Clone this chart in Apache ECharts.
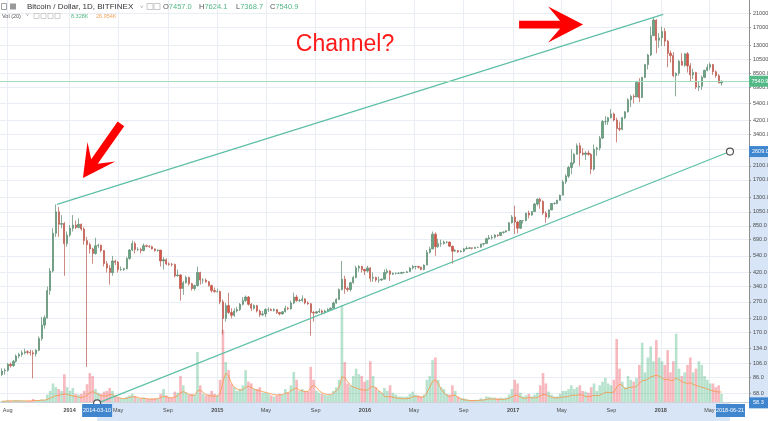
<!DOCTYPE html>
<html><head><meta charset="utf-8">
<script src="https://cdn.jsdelivr.net/npm/echarts@6/dist/echarts.min.js"></script>
<style>html,body{margin:0;padding:0;background:#fff}#c{width:768px;height:421px}</style>
</head><body><div id="c"></div>
<script>
// ---- data (weekly candles, centre of week) ----
const firstWeek = '2013-07-18';
// [open, high, low, close]
const ohlc2013 = [[90,99,88,95],[95,99,90,96],[96,107,94,105],[105,108,100,103],[103,112,101,110],[110,122,108,119],[119,125,115,122],[122,130,118,125],[125,133,122,127],[127,130,122,126],[126,131,120,125],[125,130,85,123],[123,132,118,130],[130,160,128,155],[155,215,150,190],[190,220,180,212],[212,340,210,320],[320,450,300,430],[430,820,420,760],[760,1175,720,1050],[1050,1130,720,870],[870,1000,820,880],[880,900,400,650],[650,780,620,740],[740,860,720,820]];
const ohlc2014 = [[820,1000,780,860],[860,920,810,830],[830,950,820,870],[870,880,790,810],[810,830,640,680],[680,720,101,640],[640,660,560,600],[600,610,480,560],[560,710,550,630],[630,650,610,635],[635,640,570,585],[585,590,460,480],[480,500,420,450],[450,470,350,420],[420,540,400,500],[500,510,470,490],[490,500,420,440],[440,460,430,440],[440,450,430,445],[445,530,440,520],[520,600,510,590],[590,680,580,650],[650,670,560,595],[595,615,580,595],[595,610,560,585],[585,650,580,630],[630,640,615,625],[625,635,610,620],[620,630,595,600],[600,605,575,585],[585,595,575,590],[590,590,460,500],[500,530,440,510],[510,520,470,478],[478,490,465,476],[476,485,460,475],[475,480,390,400],[400,440,395,405],[405,410,275,330],[330,370,300,360],[360,400,355,390],[390,395,345,355],[355,360,320,330],[330,350,320,345],[345,460,340,420],[420,425,350,375],[375,385,355,375],[375,385,360,365],[365,370,340,345],[345,350,310,320],[320,335,310,315],[315,330,310,315]];
const ohlc2015 = [[315,320,260,270],[270,280,165,210],[210,265,200,255],[255,310,225,230],[230,245,210,220],[220,245,215,235],[235,250,230,240],[240,265,235,260],[260,290,255,275],[275,297,270,290],[290,295,255,260],[260,265,235,245],[245,260,240,255],[255,258,230,235],[235,240,215,222],[222,235,218,225],[225,245,215,240],[240,248,232,240],[240,245,235,237],[237,245,233,240],[240,242,225,230],[230,232,220,225],[225,235,222,232],[232,255,230,245],[245,250,238,243],[243,275,240,265],[265,310,260,290],[290,300,270,275],[275,282,270,275],[275,298,270,282],[282,285,260,265],[265,272,258,262],[262,265,162,230],[230,235,200,228],[228,235,225,232],[232,245,228,235],[235,240,225,230],[230,240,226,235],[235,245,233,240],[240,248,235,245],[245,270,245,265],[265,285,262,280],[280,330,278,325],[325,500,320,380],[380,400,305,330],[330,340,315,325],[325,365,315,360],[360,400,355,390],[390,465,385,450],[450,470,425,460],[460,465,420,440],[440,445,405,430]];
const ohlc2016 = [[430,465,420,450],[450,455,365,385],[385,420,365,390],[390,395,365,375],[375,395,360,375],[375,385,370,380],[380,440,380,420],[420,445,410,430],[430,435,370,410],[410,420,405,415],[415,420,408,415],[415,422,410,415],[415,425,410,420],[420,425,415,420],[420,430,418,425],[425,455,425,450],[450,470,440,460],[460,465,440,460],[460,465,445,455],[455,458,435,440],[440,475,435,470],[470,590,470,570],[570,620,560,600],[600,780,600,750],[750,770,540,620],[620,700,610,650],[650,690,620,650],[650,680,640,665],[665,675,650,665],[665,670,620,625],[625,630,480,580],[580,600,575,585],[585,590,565,575],[575,590,570,580],[580,610,570,600],[600,625,598,605],[605,615,600,610],[610,612,595,605],[605,618,600,615],[615,620,608,615],[615,650,612,645],[645,655,630,650],[650,710,650,700],[700,740,690,710],[710,740,690,715],[715,750,700,740],[740,745,720,735],[735,775,730,770],[770,780,755,775],[775,795,770,790],[790,900,785,890],[890,1000,880,970]];
const ohlc2017 = [[970,1150,750,900],[900,915,760,820],[820,930,810,920],[920,925,880,920],[920,1035,910,1030],[1030,1070,950,1000],[1000,1060,990,1055],[1055,1200,1050,1180],[1180,1290,1150,1270],[1270,1300,1100,1230],[1230,1250,1000,1030],[1030,1060,890,970],[970,1090,950,1080],[1080,1200,1080,1190],[1190,1215,1170,1190],[1190,1260,1180,1250],[1250,1360,1245,1350],[1350,1700,1350,1650],[1650,1850,1600,1800],[1800,2100,1750,2050],[2050,2700,1850,2200],[2200,2550,2150,2500],[2500,2950,2500,2850],[2850,2980,2100,2550],[2550,2750,2450,2500],[2500,2620,2300,2550],[2550,2650,2450,2500],[2500,2550,1850,2000],[2000,2900,1950,2700],[2700,2800,2450,2750],[2750,3300,2650,3200],[3200,4200,3150,4100],[4100,4450,3900,4100],[4100,4400,3900,4350],[4350,4950,4300,4600],[4600,4700,4100,4200],[4200,4350,3000,3700],[3700,4100,3550,3650],[3650,4400,3600,4350],[4350,4800,4250,4750],[4750,5850,4700,5700],[5700,6150,5100,6000],[6000,6200,5400,5950],[5950,7600,5950,7400],[7400,7900,5500,5900],[5900,8000,5850,8000],[8000,9800,7900,9700],[9700,11400,9000,11200],[11200,17200,11000,15000],[15000,19900,15000,19000],[19000,19200,11500,14000],[14000,15600,12500,14500]];
const ohlc2018 = [[14500,17200,12800,16000],[16000,16800,12800,13800],[13800,14100,9300,11500],[11500,12000,10000,11100],[11100,11700,8000,8200],[8200,8600,6000,8500],[8500,10400,8200,10200],[10200,11500,9600,9600],[9600,11500,9400,11400],[11400,11700,8600,9500],[9500,9900,7500,8300],[8300,9100,7800,8600],[8600,8700,6700,6900],[6900,7500,6500,7000],[7000,8200,6600,8000],[8000,8950,7900,8900],[8900,9750,8750,9300],[9300,9990,8950,9700],[9700,9800,8300,8700],[8700,8900,7950,8200],[8200,8400,7300,7350],[7350,7624.1,7050,7540.9]];
// volume (thousand BTC) and its 20-period average
const vol2013 = [3,3,4,3,4,5,4,4,3,3,3,8,4,5,7,6,20,30,50,40,35,30,75,40,30];
const vol2014 = [38,22,20,22,30,48,78,70,35,25,22,28,30,38,30,15,12,10,9,14,18,22,16,10,10,12,9,8,9,10,9,22,35,18,12,12,28,25,70,45,25,20,22,20,135,45,22,18,20,30,22,18];
const vol2015 = [60,195,108,86,50,40,30,35,45,86,55,50,35,35,40,25,25,22,18,15,18,22,20,35,25,45,81,60,30,35,30,28,95,60,30,25,22,20,18,20,30,40,60,262,108,50,45,70,90,75,70,55];
const vol2016 = [60,110,70,40,30,25,38,30,45,25,20,15,15,14,15,22,28,20,18,15,20,60,70,113,120,60,40,35,22,20,45,30,15,10,10,8,6,5,6,6,10,8,15,14,12,12,10,12,10,12,20,35];
const vol2017 = [60,50,25,15,18,22,15,20,25,45,78,50,28,20,15,15,22,30,30,35,45,35,40,45,30,28,25,40,50,30,45,55,65,50,45,60,170,90,55,40,70,60,55,65,100,160,80,120,150,110,167,120];
const vol2018 = [110,100,140,80,110,184,90,70,80,100,120,80,90,110,100,70,60,50,50,40,45,22];
const ma2013 = [2,2,3,3,3,3,3,3,3,3,3,4,4,4,5,5,7,10,14,17,18,20,22,20,18];
const ma2014 = [16,15,13,12,14,18,25,28,25,20,17,16,17,20,20,16,12,10,9,10,12,14,14,12,10,10,9,8,8,8,9,12,15,14,12,11,14,16,25,28,25,20,18,18,30,32,26,20,18,16,16,16];
const ma2015 = [22,55,78,70,50,40,35,32,33,40,42,40,35,32,30,28,26,24,22,20,19,19,20,24,25,30,35,38,32,30,28,28,40,45,40,30,25,22,20,20,24,30,38,68,65,55,45,40,38,35,33,32];
const ma2016 = [32,40,42,38,30,25,15,14,15,13,11,10,9,9,9,10,14,15,14,13,14,25,40,55,60,50,35,25,18,15,18,18,12,8,6,5,4,4,4,4,5,5,7,8,8,8,7,7,7,8,10,14];
const ma2017 = [18,18,14,10,10,12,11,11,12,16,20,20,16,13,11,11,12,14,14,15,18,18,18,20,18,15,14,16,18,17,18,22,26,26,25,27,40,48,45,35,38,40,40,42,50,58,58,62,68,70,72,70];
const ma2018 = [65,60,62,58,58,65,60,55,52,50,52,48,45,42,40,38,35,32,30,28,27,27];
// trend lines [date, price]
const upperLine = [['2013-12-01', 1176], ['2018-01-07', 20680]];
const lowerLine = [['2014-03-10', 58.3], ['2018-06-21', 2609]];
const lastPrice = 7540.9;
// axis ticks
const yTicks = [68,86,106,134,170,210,270,340,420,540,690,850,1050,1300,1700,2100,2700,3400,4200,5400,6900,8500,10500,13000,17000,21000];
const xTicks = ['2013-08-01','2014-01-01','2014-05-01','2014-09-01','2015-01-01','2015-05-01','2015-09-01','2016-01-01','2016-05-01','2016-09-01','2017-01-01','2017-05-01','2017-09-01','2018-01-01','2018-05-01'];

// ---- build ----
const DAY = 86400000;
const ts = s => { const [y,m,d] = s.split('-').map(Number); return Date.UTC(y, m-1, d); };
const ohlc = [].concat(ohlc2013, ohlc2014, ohlc2015, ohlc2016, ohlc2017, ohlc2018);
const vols = [].concat(vol2013, vol2014, vol2015, vol2016, vol2017, vol2018);
const mas = [].concat(ma2013, ma2014, ma2015, ma2016, ma2017, ma2018);
const t0 = ts(firstWeek);
const times = ohlc.map((_, i) => t0 + i * 7 * DAY);
const MONTHS = ['Jan','Feb','Mar','Apr','May','Jun','Jul','Aug','Sep','Oct','Nov','Dec'];
const FONT = '"Liberation Sans", Arial, sans-serif';
const TEAL = '#5fbfa6';

const chart = echarts.init(document.getElementById('c'), null, {renderer: 'canvas'});
chart.setOption({
  animation: false,
  backgroundColor: '#ffffff',
  grid: {left: 0, right: 19, top: 0, bottom: 19, containLabel: false, outerBoundsMode: 'none'},
  xAxis: {
    type: 'value', min: ts('2013-07-13'), max: ts('2018-08-07'), scale: true,
    axisLine: {show: true, lineStyle: {color: '#cfd2d5'}},
    axisTick: {show: false, customValues: xTicks.map(ts)},
    axisLabel: {
      customValues: xTicks.map(ts), color: '#4a4a4a', fontSize: 5.5, fontFamily: FONT, margin: 5,
      formatter: v => { const d = new Date(v); return d.getUTCMonth() === 0 ? '{y|' + d.getUTCFullYear() + '}' : MONTHS[d.getUTCMonth()]; },
      rich: {y: {fontWeight: 'bold', fontSize: 5.5, color: '#4a4a4a', fontFamily: FONT}}
    },
    splitLine: {show: true, lineStyle: {color: '#e8eef4', width: 1}}
  },
  yAxis: [{
    type: 'log', logBase: 10, position: 'right', min: 59.5, max: 25700,
    axisLine: {show: true, lineStyle: {color: '#8f8f8f'}},
    axisTick: {show: true, length: 2, customValues: yTicks, lineStyle: {color: '#8f8f8f'}},
    axisLabel: {customValues: yTicks, color: '#4a4a4a', fontSize: 5.5, fontFamily: FONT, margin: 4,
      formatter: v => Number(v).toFixed(1)},
    splitLine: {show: true, lineStyle: {color: '#e8eef4', width: 1}}
  }, {
    type: 'value', min: 0, max: 1085, show: false
  }],
  series: [{
    name: 'Vol', type: 'bar', xAxisIndex: 0, yAxisIndex: 1, barWidth: 2.6, z: 1,
    data: vols.map((v, i) => ({value: [times[i], v], itemStyle: {color: ohlc[i][3] >= ohlc[i][0] ? 'rgba(83,185,135,0.42)' : 'rgba(235,77,92,0.4)'}}))
  }, {
    name: 'Vol MA', type: 'line', xAxisIndex: 0, yAxisIndex: 1, showSymbol: false, symbol: 'none', z: 2,
    lineStyle: {color: 'rgba(247,150,70,0.8)', width: 1},
    data: mas.map((v, i) => [times[i], v])
  }, {
    name: 'BTCUSD', type: 'candlestick', xAxisIndex: 0, yAxisIndex: 0, barWidth: 1.8, z: 3,
    itemStyle: {color: '#6ba583', color0: '#d75442', borderColor: '#5a8a6e', borderColor0: '#b8584c', borderWidth: 0.7},
    data: ohlc.map((d, i) => [times[i], d[0], d[3], d[2], d[1]]),
    markLine: {symbol: 'none', silent: true, label: {show: false}, lineStyle: {color: '#a4dcbc', type: 'solid', width: 1},
      data: [{yAxis: lastPrice}]}
  }, {
    name: 'upper', type: 'line', xAxisIndex: 0, yAxisIndex: 0, symbol: 'none', z: 4,
    lineStyle: {color: TEAL, width: 1.2},
    data: upperLine.map(p => [ts(p[0]), p[1]])
  }, {
    name: 'lower', type: 'line', xAxisIndex: 0, yAxisIndex: 0, clip: false, z: 4,
    symbol: 'circle', symbolSize: 7, showSymbol: true,
    itemStyle: {color: '#ffffff', borderColor: '#555', borderWidth: 1.2},
    lineStyle: {color: TEAL, width: 1.2},
    data: lowerLine.map(p => [ts(p[0]), p[1]])
  }]
});

// ---- annotations positioned through the chart's own scales ----
const px = (d, v) => chart.convertToPixel({xAxisIndex: 0, yAxisIndex: 0}, [ts(d), v]);
const xPix = d => chart.convertToPixel({xAxisIndex: 0}, ts(d));
const yPix = v => chart.convertToPixel({yAxisIndex: 0}, v);
const gBottom = 402, W = 768;

function arrow(tip, ang, len, headLen, headHalf, shaftHalf) {
  const shape = [[0,0],[-headLen,-headHalf],[-headLen+12,-shaftHalf],[-len,-shaftHalf],[-len,shaftHalf],[-headLen+12,shaftHalf],[-headLen,headHalf]];
  const c = Math.cos(ang), s = Math.sin(ang);
  return shape.map(([x, y]) => [tip[0] + x*c - y*s, tip[1] + x*s + y*c]);
}
const tip1 = px('2014-02-03', 1753);
const tip2 = px('2017-06-23', 17730);
const chanPos = px('2015-07-14', 13000);

const xa = xPix(lowerLine[0][0]), xb = xPix(lowerLine[1][0]);
const ya = yPix(lowerLine[1][1]), yb = yPix(lowerLine[0][1]), yl = yPix(lastPrice);
const BLUE = '#3f86cf', BAND = '#d7e5f6';
const txt = (x, y, text, fill, size, extra) => Object.assign({type: 'text', x, y, z: 20,
  style: Object.assign({text, fill, fontSize: size, fontFamily: FONT, textVerticalAlign: 'middle'}, extra || {})});
const rich = {l: {fill: '#555', fontSize: 7.5, fontFamily: FONT}, g: {fill: '#53b987', fontSize: 7.5, fontFamily: FONT}};

const graphics = [
  {type: 'rect', z: -1, shape: {x: xa, y: gBottom + 1, width: xb - xa, height: 421 - gBottom - 1}, style: {fill: BAND}},
  {type: 'rect', z: -1, shape: {x: W - 18.5, y: ya, width: 18.5, height: yb - ya}, style: {fill: BAND}},
  {type: 'rect', z: 20, shape: {x: xa - 15, y: gBottom + 2, width: 30, height: 13}, style: {fill: BLUE}},
  txt(xa, gBottom + 8.5, '2014-03-10', '#fff', 5.5, {textAlign: 'center'}),
  {type: 'rect', z: 20, shape: {x: xb - 14, y: gBottom + 2, width: 29, height: 13}, style: {fill: BLUE}},
  txt(xb, gBottom + 8.5, '2018-06-21', '#fff', 5.5, {textAlign: 'center'}),
  {type: 'rect', z: 20, shape: {x: W - 19, y: ya - 5.5, width: 19, height: 11}, style: {fill: BLUE}},
  txt(W - 16, ya, '2609.0', '#fff', 5.5),
  {type: 'rect', z: 20, shape: {x: W - 19, y: yb - 6, width: 19, height: 11}, style: {fill: BLUE}},
  txt(W - 15, yb - 0.5, '58.3', '#fff', 5.5),
  {type: 'rect', z: 20, shape: {x: W - 19, y: yl - 5.5, width: 19, height: 11}, style: {fill: '#53b987'}},
  txt(W - 16.5, yl, String(lastPrice), '#fff', 5.5),
  {type: 'polygon', z: 15, shape: {points: arrow(tip1, Math.atan2(54, -38), 66, 32, 17, 4)}, style: {fill: '#ff0000'}},
  {type: 'polygon', z: 15, shape: {points: arrow(tip2, 0, 64, 35, 18, 3.8)}, style: {fill: '#ff0000'}},
  txt(chanPos[0], chanPos[1], 'Channel?', '#ff1a1a', 23),
  {type: 'rect', z: 20, shape: {x: 1.5, y: 3.5, width: 5, height: 6}, style: {fill: '#fff', stroke: '#8a8a8a', lineWidth: 0.8}},
  {type: 'rect', z: 20, shape: {x: 10, y: 3.5, width: 6, height: 6}, style: {fill: '#9a9a9a'}},
  txt(27, 7, 'Bitcoin / Dollar, 1D, BITFINEX', '#333', 8),
  txt(140, 7, '\u02C5', '#999', 6),
  {type: 'rect', z: 20, shape: {x: 147, y: 3.5, width: 6, height: 6}, style: {fill: '#fff', stroke: '#bbb', lineWidth: 0.8}},
  {type: 'rect', z: 20, shape: {x: 154, y: 3.5, width: 6, height: 6}, style: {fill: '#fff', stroke: '#bbb', lineWidth: 0.8}},
  txt(163, 7, '{l|O}{g|7457.0}', '#333', 7.5, {rich}),
  txt(199, 7, '{l|H}{g|7624.1}', '#333', 7.5, {rich}),
  txt(236, 7, '{l|L}{g|7368.7}', '#333', 7.5, {rich}),
  txt(270, 7, '{l|C}{g|7540.9}', '#333', 7.5, {rich}),
  txt(2, 16, 'Vol (20)', '#555', 5.5),
  txt(26, 16, '\u02C5', '#999', 5),
  {type: 'rect', z: 20, shape: {x: 34, y: 13.5, width: 5, height: 5}, style: {fill: '#fff', stroke: '#bbb', lineWidth: 0.7}},
  {type: 'rect', z: 20, shape: {x: 41, y: 13.5, width: 5, height: 5}, style: {fill: '#fff', stroke: '#bbb', lineWidth: 0.7}},
  {type: 'rect', z: 20, shape: {x: 48, y: 13.5, width: 5, height: 5}, style: {fill: '#fff', stroke: '#bbb', lineWidth: 0.7}},
  {type: 'rect', z: 20, shape: {x: 55, y: 13.5, width: 5, height: 5}, style: {fill: '#fff', stroke: '#bbb', lineWidth: 0.7}},
  txt(71, 16, '8.328K', '#53b987', 5.5),
  txt(96, 16, '26.954K', '#f7a35c', 5.5)
];
chart.setOption({graphic: graphics});
</script>
</body></html>
